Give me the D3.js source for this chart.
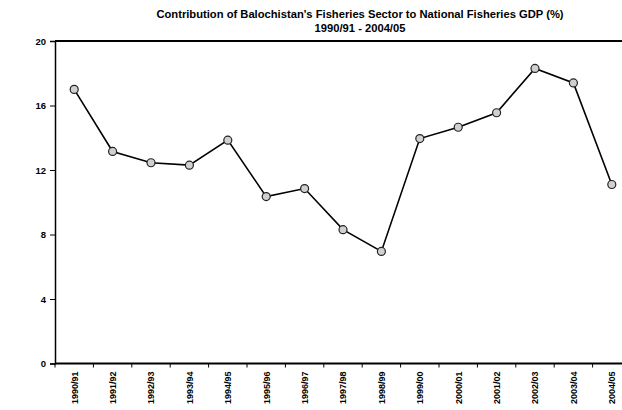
<!DOCTYPE html>
<html><head><meta charset="utf-8">
<script src="https://cdn.jsdelivr.net/npm/d3@7"></script>
<style>body{margin:0;background:#fff}svg{display:block}</style>
</head><body><svg id="c" width="622" height="410"></svg>
<script>
const categories = ["1990/91","1991/92","1992/93","1993/94","1994/95","1995/96","1996/97","1997/98","1998/99","1999/00","2000/01","2001/02","2002/03","2003/04","2004/05"];
const values = [17.0,13.15,12.45,12.3,13.85,10.35,10.85,8.3,6.95,13.95,14.65,15.55,18.3,17.4,11.1];
const yTicks = [0,4,8,12,16,20];
const title = "Contribution of Balochistan's Fisheries Sector to National Fisheries GDP (%)";
const subtitle = "1990/91 - 2004/05";

const svg = d3.select("#c");
const font = "'Liberation Sans', Arial, sans-serif";
const mLeft = 55, mRight = 631, mTop = 41, mBottom = 363.5;

const x = d3.scaleBand().domain(categories).range([mLeft, mRight]);
const y = d3.scaleLinear().domain([0, 20]).range([mBottom, mTop]);

svg.append("text").attr("x", 360).attr("y", 18).attr("text-anchor", "middle")
  .attr("font-family", font).attr("font-weight", "bold").attr("font-size", 11.2).text(title);
svg.append("text").attr("x", 360).attr("y", 32).attr("text-anchor", "middle")
  .attr("font-family", font).attr("font-weight", "bold").attr("font-size", 11.2).text(subtitle);

// top border
svg.append("line").attr("x1", mLeft).attr("x2", 622).attr("y1", mTop).attr("y2", mTop)
  .attr("stroke", "#000").attr("stroke-width", 2);

// y axis
const ya = svg.append("g").attr("transform", `translate(${mLeft},0)`)
  .call(d3.axisLeft(y).tickValues(yTicks).tickSize(5).tickPadding(4).tickFormat(d3.format("d")));
ya.select(".domain").attr("stroke-width", 1.5);
ya.selectAll("text").attr("font-family", font).attr("font-weight", "bold").attr("font-size", 9.5).attr("fill", "#000");

// x axis with ticks at band boundaries
const xa = svg.append("g").attr("transform", `translate(0,${mBottom})`);
xa.append("line").attr("x1", mLeft).attr("x2", 622).attr("stroke", "#000").attr("stroke-width", 2.2);
const bounds = categories.map(c => x(c)).concat([mRight]);
xa.selectAll("line.tk").data(bounds).join("line").attr("class", "tk")
  .attr("x1", d => d).attr("x2", d => d).attr("y1", 0).attr("y2", 4)
  .attr("stroke", "#000").attr("stroke-width", 1);
xa.selectAll("text").data(categories).join("text")
  .attr("transform", d => `translate(${x(d) + x.bandwidth() / 2 + 3.3},8) rotate(-90)`)
  .attr("text-anchor", "end")
  .attr("font-family", font).attr("font-weight", "bold").attr("font-size", 9)
  .text(d => d);

// line
const line = d3.line().x((d, i) => x(categories[i]) + x.bandwidth() / 2).y(d => y(d));
svg.append("path").datum(values).attr("d", line).attr("fill", "none")
  .attr("stroke", "#000").attr("stroke-width", 1.6);

// markers
svg.selectAll("circle.m").data(values).join("circle").attr("class", "m")
  .attr("cx", (d, i) => x(categories[i]) + x.bandwidth() / 2).attr("cy", d => y(d))
  .attr("r", 4).attr("fill", "#d0d0d0").attr("stroke", "#222").attr("stroke-width", 1.2);
</script></body></html>
